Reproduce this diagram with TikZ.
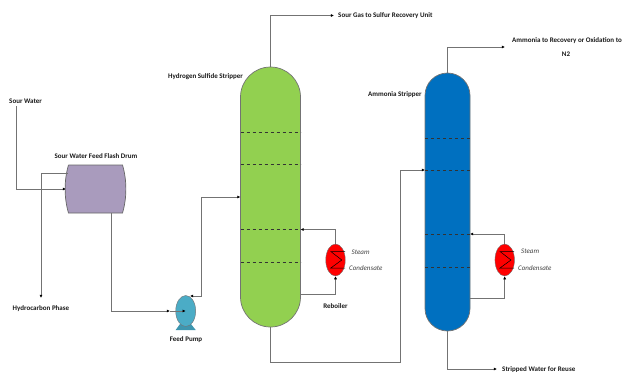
\documentclass[tikz,border=0pt]{standalone}
\usepackage{fontspec}
\setmainfont{Carlito}
\usepackage{tikz}
\usetikzlibrary{calc,arrows.meta,shapes.geometric}
\tikzset{
  pipe/.style={draw=black!55,line width=0.8pt},
  flow/.style={pipe,-{Latex[length=3.2pt,width=3.2pt,black]}},
  tag/.style={font=\bfseries\fontsize{7}{9}\selectfont,inner sep=0pt,text=black!90},
  utility/.style={font=\itshape\fontsize{7}{9}\selectfont,inner sep=0pt,anchor=west,text=black!75},
  stripper/.style={draw=black!55,line width=0.7pt,inner sep=0pt},
  reboiler/.style={draw=black!55,fill=red,shape=ellipse,inner sep=0pt,minimum width=19.5pt,minimum height=32pt},
  tray/.style={dashed,black!80,line width=0.6pt}
}
\begin{document}
\begin{tikzpicture}[x=1pt,y=-1pt]
\useasboundingbox (0,0) rectangle (622,372);
% columns
\node[stripper,fill={rgb,255:red,146;green,208;blue,80},rounded corners=30pt,minimum width=60pt,minimum height=260pt] (hstrip) at (270.5,197) {};
\node[stripper,fill={rgb,255:red,0;green,112;blue,192},rounded corners=22.5pt,minimum width=45pt,minimum height=258pt] (nstrip) at (447.5,202) {};
\foreach \y in {132,164,229.5,262} \draw[tray] (240.5,\y) -- (300.5,\y);
\foreach \y in {138,170,234,267} \draw[tray] (425,\y) -- (470,\y);
% drum
\draw[draw=black!60,line width=0.7pt,fill={rgb,255:red,169;green,155;blue,189}] (68.5,165) -- (122.5,165) .. controls (127,180) and (127,198) .. (122.5,213) -- (68.5,213) .. controls (64,198) and (64,180) .. (68.5,165);
\coordinate (drumin) at (66,189);
\coordinate (drumtop) at (68,173);
\coordinate (drumout) at (111,213);
% pump
\fill[fill={rgb,255:red,62;green,150;blue,175}] (180,324) -- (191,324) -- (195.7,330) -- (175.7,330) -- cycle;
\node[draw=black!55,fill={rgb,255:red,75;green,172;blue,198},shape=ellipse,inner sep=0pt,minimum width=20pt,minimum height=31pt] (pump) at (185.7,311) {};
% reboilers
\node[reboiler] (rebh) at (335.5,260) {};
\node[reboiler] (rebn) at (504.7,260) {};
\foreach \r in {rebh,rebn}
  \draw[black,line width=0.5pt,shift={(\r.center)}] (9.5,-8.5) -- (-4.7,-8.5) -- (6.3,0) -- (-4.7,8) -- (9.5,8);
% labels
\node[tag,anchor=west] (sourwater) at (9,101) {Sour Water};
\node[tag] (drumlabel) at (96,156) {Sour Water Feed Flash Drum};
\node[tag] (hcphase) at (41,309) {Hydrocarbon Phase};
\node[tag] at (186,340) {Feed Pump};
\node[tag,anchor=west] at (168,76.5) {Hydrogen Sulfide Stripper};
\node[tag,anchor=west] at (368,95) {Ammonia Stripper};
\node[tag] at (335.5,306) {Reboiler};
\node[tag,anchor=west] (sourgas) at (338,15.5) {Sour Gas to Sulfur Recovery Unit};
\node[tag,anchor=west] (ammonia) at (512,41) {Ammonia to Recovery or Oxidation to};
\node[tag] at (566,54.5) {N2};
\node[tag,anchor=west] (stripped) at (502,369.5) {Stripped Water for Reuse};
\node[utility] at (351.5,252.5) {Steam};
\node[utility] at (349,268) {Condensate};
\node[utility] at (521,251) {Steam};
\node[utility] at (518,268) {Condensate};
% pipes
\coordinate (sw) at (16,106);
\coordinate (hcend) at (41,298);
\draw[flow] (sw) |- (drumin);
\draw[flow] (drumtop) -| (hcend);
\coordinate (pumpin) at (170,311);
\draw[flow] (drumout) |- (pumpin);
\draw[flow] (pumpin) -- (pump.center);
\coordinate (pumpout) at (190,296);
\coordinate (hfeed) at (240.5,197);
\draw[pipe,{Latex[length=3pt,width=3pt,black]}-{Latex[length=3.2pt,width=3.2pt,black]}] (pumpout) -- (201,296) -- (201,197) -- (hfeed);
\draw[flow] (hstrip.north) |- ($(sourgas.west)+(-4,0)$);
\coordinate (nfeed) at (425,170);
\draw[flow] (hstrip.south) -- (270.5,362) -- (400,362) -- (400,170) -- (nfeed);
\draw[flow] (nstrip.north) |- (505,47);
\draw[flow] (nstrip.south) |- (497,369);
% reboiler loops
\coordinate (hret) at (300.5,229.5);
\coordinate (hdraw) at (300.5,294);
\coordinate (nret) at (470,234);
\coordinate (ndraw) at (470,298.3);
\draw[flow] (hdraw) -| (rebh.south);
\draw[flow] (rebh.north) |- (hret);
\draw[flow] (ndraw) -| (rebn.south);
\draw[flow] (rebn.north) |- (nret);
\end{tikzpicture}
\end{document}
